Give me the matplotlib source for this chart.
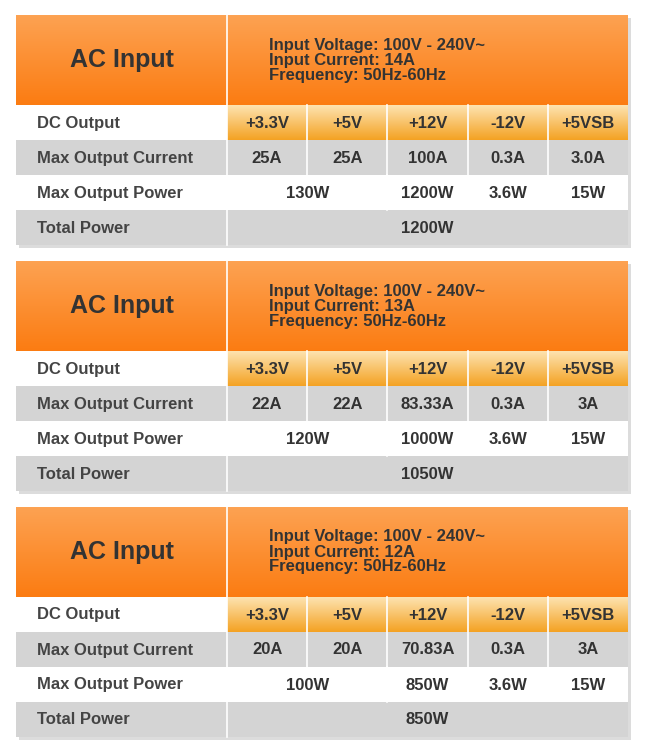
import matplotlib
matplotlib.use("Agg")
import matplotlib.pyplot as plt
import numpy as np
from matplotlib.patches import Rectangle

row_labels = ["DC Output", "Max Output Current", "Max Output Power", "Total Power"]
rails = ["+3.3V", "+5V", "+12V", "-12V", "+5VSB"]
input_current = ["14A", "13A", "12A"]
currents = [["25A", "25A", "100A", "0.3A", "3.0A"],
            ["22A", "22A", "83.33A", "0.3A", "3A"],
            ["20A", "20A", "70.83A", "0.3A", "3A"]]
power_33_5 = ["130W", "120W", "100W"]
power_12 = ["1200W", "1000W", "850W"]
power_m12 = ["3.6W", "3.6W", "3.6W"]
power_5vsb = ["15W", "15W", "15W"]
total = ["1200W", "1050W", "850W"]

W, H = 652, 753
fig = plt.figure(figsize=(W/100, H/100), dpi=100)
ax = fig.add_axes([0, 0, 1, 1])
ax.set_xlim(0, W); ax.set_ylim(H, 0); ax.axis("off")

FONT = "Liberation Sans"
TC = "#333333"

def grad(x0, x1, y0, y1, c0, c1):
    c0 = np.array(matplotlib.colors.to_rgb(c0)); c1 = np.array(matplotlib.colors.to_rgb(c1))
    t = np.linspace(0, 1, 64)[:, None]
    img = (c0 * (1 - t) + c1 * t)[:, None, :]
    ax.imshow(img, extent=(x0, x1, y1, y0), aspect="auto", zorder=2, interpolation="bilinear")

L, X0, R = 16, 227, 628
cols = np.linspace(X0, R, 6)
for k in range(3):
    top = 15 + k * 246
    hb = top + 90
    rows = [hb + 35 * i for i in range(5)]
    # shadow
    ax.add_patch(Rectangle((L + 3, top + 3), R - L, rows[-1] - top, color="#bbbbbb", alpha=0.5, zorder=1, lw=0))
    grad(L, R, top, hb, "#fda252", "#fb7c12")
    ax.add_patch(Rectangle((L, rows[0]), R - L, 35, color="white", zorder=2, lw=0))
    grad(X0, R, rows[0], rows[1], "#fde3b0", "#f4a223")
    ax.add_patch(Rectangle((L, rows[1]), R - L, 35, color="#d4d4d4", zorder=2, lw=0))
    ax.add_patch(Rectangle((L, rows[2]), R - L, 35, color="white", zorder=2, lw=0))
    ax.add_patch(Rectangle((L, rows[3]), R - L, 35, color="#d4d4d4", zorder=2, lw=0))
    # white separators
    ax.plot([X0, X0], [top, rows[4]], color="white", lw=1.2, zorder=3)
    for c in cols[1:-1]:
        ax.plot([c, c], [rows[0], rows[2]], color="white", lw=1.2, zorder=3)
    ax.plot([cols[2], cols[2]], [rows[2], rows[3]], color="white", lw=1.2, zorder=3)
    ax.text((L + X0) / 2, (top + hb) / 2, "AC Input", fontsize=18, fontweight="bold",
            family=FONT, color=TC, ha="center", va="center", zorder=4)
    ax.text(269, (top + hb) / 2, "Input Voltage: 100V - 240V~\nInput Current: %s\nFrequency: 50Hz-60Hz" % input_current[k],
            fontsize=12, fontweight="bold", family=FONT, color=TC, ha="left", va="center",
            linespacing=1.0, zorder=4)
    for i, lab in enumerate(row_labels):
        ax.text(37, rows[i] + 18, lab, fontsize=12, fontweight="bold", family=FONT, color="#444444",
                ha="left", va="center", zorder=4)
    cc = (cols[:-1] + cols[1:]) / 2
    for j in range(5):
        ax.text(cc[j], rows[0] + 18, rails[j], fontsize=12, fontweight="bold", family=FONT, color=TC, ha="center", va="center", zorder=4)
        ax.text(cc[j], rows[1] + 18, currents[k][j], fontsize=12, fontweight="bold", family=FONT, color=TC, ha="center", va="center", zorder=4)
    ax.text(cols[1], rows[2] + 18, power_33_5[k], fontsize=12, fontweight="bold", family=FONT, color=TC, ha="center", va="center", zorder=4)
    ax.text(cc[2], rows[2] + 18, power_12[k], fontsize=12, fontweight="bold", family=FONT, color=TC, ha="center", va="center", zorder=4)
    ax.text(cc[3], rows[2] + 18, power_m12[k], fontsize=12, fontweight="bold", family=FONT, color=TC, ha="center", va="center", zorder=4)
    ax.text(cc[4], rows[2] + 18, power_5vsb[k], fontsize=12, fontweight="bold", family=FONT, color=TC, ha="center", va="center", zorder=4)
    ax.text(cc[2], rows[3] + 18, total[k], fontsize=12, fontweight="bold", family=FONT, color=TC, ha="center", va="center", zorder=4)

fig.savefig("out.png", dpi=100)
